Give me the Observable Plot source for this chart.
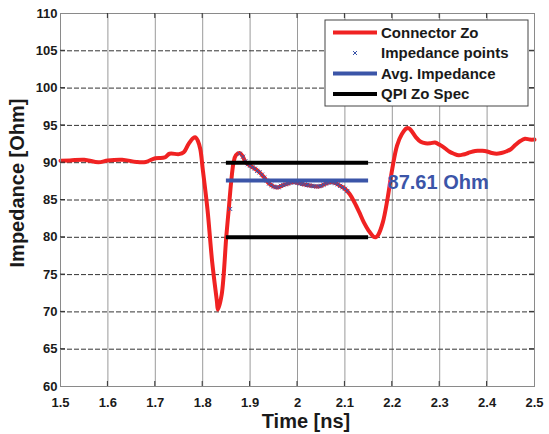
<!DOCTYPE html>
<html><head><meta charset="utf-8">
<script src="https://cdn.jsdelivr.net/npm/d3@7"></script>
<script src="https://cdn.jsdelivr.net/npm/@observablehq/plot@0.6"></script>
<style>body{margin:0;background:#fff;} #chart svg{display:block;}</style>
</head><body><div id="chart"></div>
<script>
// Connector Zo curve (Time ns, Impedance Ohm)
const timeNs = [1.5,1.52,1.55,1.58,1.6,1.63,1.66,1.68,1.7,1.72,1.73,1.75,1.76,1.77,1.78,1.785,1.79,1.795,1.8,1.81,1.82,1.83,1.832,1.84,1.85,1.855,1.86,1.865,1.87,1.878,1.885,1.89,1.9,1.91,1.92,1.93,1.94,1.95,1.96,1.97,1.98,1.99,2.0,2.01,2.02,2.03,2.04,2.05,2.06,2.07,2.08,2.09,2.1,2.11,2.12,2.13,2.14,2.15,2.16,2.165,2.17,2.18,2.19,2.2,2.21,2.22,2.23,2.235,2.24,2.25,2.26,2.27,2.28,2.29,2.3,2.31,2.32,2.33,2.34,2.35,2.36,2.37,2.38,2.39,2.4,2.41,2.42,2.43,2.44,2.45,2.46,2.47,2.48,2.49,2.5];
const impedanceOhm = [90.27,90.3,90.4,90.05,90.3,90.4,90.1,90.1,90.6,90.7,91.2,91.15,91.4,92.5,93.3,93.4,92.9,91.8,89.2,83.8,76.7,71.4,70.3,72.3,80.3,83.8,87.4,90.0,91.0,91.3,90.8,90.1,89.6,89.2,88.7,88.0,87.2,86.8,86.7,87.0,87.2,87.4,87.3,87.15,87.0,86.9,86.8,86.9,87.2,87.4,87.25,86.9,86.5,85.8,84.7,83.4,82.0,80.9,80.1,80.0,80.3,82.0,85.2,89.2,92.3,93.8,94.6,94.6,94.3,93.4,92.8,92.6,92.6,92.7,92.4,92.0,91.5,91.2,91.0,91.1,91.3,91.5,91.6,91.6,91.5,91.3,91.2,91.3,91.5,91.8,92.4,92.9,93.2,93.1,93.1];
// Impedance points (blue x markers)
const pointTimeNs = [1.858,1.878,1.885,1.89,1.895,1.9,1.905,1.91,1.915,1.92,1.925,1.93,1.935,1.94,1.945,1.95,1.955,1.96,1.965,1.97,1.975,1.98,1.985,1.99,1.995,2.0,2.005,2.01,2.015,2.02,2.025,2.03,2.035,2.04,2.045,2.05,2.055,2.06,2.065,2.07,2.075,2.08,2.085,2.09,2.095,2.1,2.105];
const pointOhm = [83.8,91.2,90.8,90.2,89.8,89.6,89.4,89.2,88.9,88.7,88.4,88.0,87.6,87.2,87.0,86.8,86.7,86.7,86.9,87.0,87.1,87.2,87.3,87.4,87.35,87.3,87.2,87.15,87.1,87.0,86.95,86.9,86.85,86.8,86.85,86.9,87.05,87.2,87.3,87.4,87.35,87.25,87.1,86.9,86.7,86.5,86.2];
const avgImpedance = 87.61;
const avgLabel = "87.61 Ohm";
const avgLabelTime = 2.19;
const specLimits = [80, 90];
const specStart = 1.85, specEnd = 2.15;
const xTicks = [1.5,1.6,1.7,1.8,1.9,2,2.1,2.2,2.3,2.4,2.5];
const yTicks = [60,65,70,75,80,85,90,95,100,105,110];
const legendLabels = ["Connector Zo","Impedance points","Avg. Impedance","QPI Zo Spec"];
const xTitle = "Time [ns]";
const yTitle = "Impedance [Ohm]";

const RED = "#f02222", BLUE = "#3b55a8", BLACK = "#000000";
const FONT = "'Liberation Sans', Arial, Helvetica, sans-serif";

const curve = timeNs.map((t, i) => ({t, z: impedanceOhm[i]}));
const points = pointTimeNs.map((t, i) => ({t, z: pointOhm[i]}));

const plot = Plot.plot({
  width: 549, height: 434,
  marginLeft: 60, marginRight: 15, marginTop: 13, marginBottom: 48,
  style: {fontFamily: FONT, fontSize: "13px", fontWeight: "bold", color: "#1a1a1a", background: "#fff"},
  x: {domain: [1.5, 2.5]},
  y: {domain: [60, 110]},
  marks: [
    Plot.gridX(xTicks, {stroke: "#9a9a9a", strokeOpacity: 1}),
    Plot.gridY(yTicks, {stroke: "#333", strokeOpacity: 1, strokeDasharray: "5,2"}),
    Plot.axisX(xTicks, {tickSize: 0, tickPadding: 11, label: null, tickFormat: d => String(d)}),
    Plot.axisY(yTicks, {tickSize: 0, tickPadding: 3, label: null}),
    Plot.line(curve, {x: "t", y: "z", stroke: RED, strokeWidth: 4, curve: "catmull-rom"}),
    Plot.dot(points, {x: "t", y: "z", symbol: "times", r: 2, stroke: BLUE, strokeWidth: 1}),
    Plot.ruleY([avgImpedance], {x1: specStart, x2: specEnd, stroke: BLUE, strokeWidth: 4}),
    Plot.ruleY(specLimits, {x1: specStart, x2: specEnd, stroke: BLACK, strokeWidth: 4}),
    Plot.text([avgLabel], {x: avgLabelTime, y: avgImpedance, text: d => d, textAnchor: "start", fill: BLUE, fontSize: 20, fontWeight: "bold", dy: 2}),
    Plot.frame({stroke: "#8a8a8a"})
  ]
});
document.getElementById("chart").appendChild(plot);

const svg = d3.select(plot);
const sx = plot.scale("x"), sy = plot.scale("y");
const L = sx.apply(1.5), R = sx.apply(2.5), T = sy.apply(110), B = sy.apply(60);

// inward tick marks
const tk = svg.append("g").attr("stroke", "#333").attr("stroke-width", 1);
xTicks.slice(1, -1).forEach(v => {
  const x = sx.apply(v);
  tk.append("line").attr("x1", x).attr("x2", x).attr("y1", B).attr("y2", B - 5);
  tk.append("line").attr("x1", x).attr("x2", x).attr("y1", T).attr("y2", T + 5);
});
yTicks.slice(1, -1).forEach(v => {
  const y = sy.apply(v);
  tk.append("line").attr("y1", y).attr("y2", y).attr("x1", L).attr("x2", L + 5);
  tk.append("line").attr("y1", y).attr("y2", y).attr("x1", R).attr("x2", R - 5);
});

// axis titles
svg.append("text").attr("x", 306).attr("y", 428).attr("text-anchor", "middle")
  .attr("font-family", FONT).attr("font-size", 20).attr("font-weight", "bold").attr("fill", "#1a1a1a").text(xTitle);
svg.append("text").attr("transform", "translate(24,183) rotate(-90)").attr("text-anchor", "middle")
  .attr("font-family", FONT).attr("font-size", 20).attr("font-weight", "bold").attr("fill", "#1a1a1a").text(yTitle);

// legend
const lg = svg.append("g");
lg.append("rect").attr("x", 325).attr("y", 20).attr("width", 203).attr("height", 86)
  .attr("fill", "#fff").attr("stroke", "#444").attr("stroke-width", 1);
const styles = [
  {type: "line", color: RED},
  {type: "mark", color: BLUE},
  {type: "line", color: BLUE},
  {type: "line", color: BLACK}
];
legendLabels.forEach((lab, i) => {
  const y = 32.5 + i * 20.5;
  const s = styles[i];
  if (s.type === "line") {
    lg.append("line").attr("x1", 333).attr("x2", 377).attr("y1", y).attr("y2", y)
      .attr("stroke", s.color).attr("stroke-width", 4);
  } else {
    lg.append("path").attr("d", `M${353},${y-2}L${357},${y+2}M${357},${y-2}L${353},${y+2}`)
      .attr("stroke", s.color).attr("stroke-width", 1);
  }
  lg.append("text").attr("x", 381).attr("y", y).attr("dy", "0.35em").attr("text-anchor", "start")
    .attr("font-family", FONT).attr("font-size", 15).attr("font-weight", "bold").attr("fill", "#1a1a1a").text(lab);
});
</script>
</body></html>
